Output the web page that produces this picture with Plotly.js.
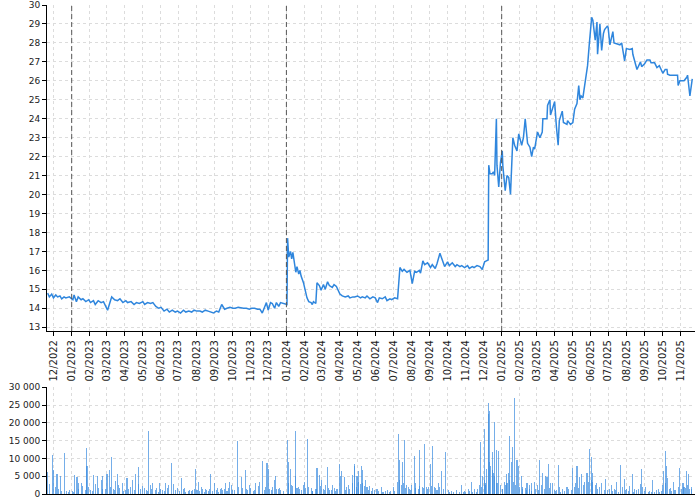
<!DOCTYPE html>
<html>
<head>
<meta charset="utf-8">
<script src="https://cdn.plot.ly/plotly-3.0.1.min.js"></script>
<style>html,body{margin:0;padding:0;background:#fff}#chart{width:700px;height:500px}</style>
</head>
<body>
<div id="chart"></div>
<script>
const priceDates = ['2022-11-21','2022-11-24','2022-11-28','2022-12-01','2022-12-05','2022-12-08','2022-12-12','2022-12-15','2022-12-19','2022-12-22','2022-12-28',
'2023-01-03','2023-01-05','2023-01-09','2023-01-12','2023-01-17','2023-01-20','2023-01-25','2023-01-30','2023-02-02','2023-02-07','2023-02-10','2023-02-15','2023-02-20','2023-02-24','2023-02-28',
'2023-03-03','2023-03-07','2023-03-10','2023-03-15','2023-03-20','2023-03-24','2023-03-29','2023-04-03','2023-04-06','2023-04-12','2023-04-17','2023-04-21','2023-04-26',
'2023-05-02','2023-05-05','2023-05-10','2023-05-15','2023-05-19','2023-05-24','2023-05-29','2023-06-02','2023-06-07','2023-06-12','2023-06-16','2023-06-21','2023-06-26','2023-06-30',
'2023-07-05','2023-07-10','2023-07-14','2023-07-19','2023-07-24','2023-07-28','2023-08-02','2023-08-07','2023-08-11','2023-08-16','2023-08-21','2023-08-25','2023-08-30',
'2023-09-04','2023-09-08','2023-09-13','2023-09-18','2023-09-22','2023-09-27','2023-10-02','2023-10-06','2023-10-11','2023-10-16','2023-10-20','2023-10-25','2023-10-30',
'2023-11-03','2023-11-08','2023-11-13','2023-11-17','2023-11-21','2023-11-24','2023-11-28','2023-12-01','2023-12-05','2023-12-08','2023-12-12','2023-12-15','2023-12-19','2023-12-22','2023-12-28',
'2024-01-02','2024-01-03','2024-01-05','2024-01-08','2024-01-10','2024-01-12','2024-01-15','2024-01-17','2024-01-19','2024-01-22','2024-01-24','2024-01-26','2024-01-30',
'2024-02-01','2024-02-05','2024-02-08','2024-02-12','2024-02-14','2024-02-16','2024-02-20','2024-02-22','2024-02-26','2024-02-29','2024-03-04','2024-03-07','2024-03-11','2024-03-14','2024-03-19','2024-03-22','2024-03-26',
'2024-04-01','2024-04-05','2024-04-10','2024-04-15','2024-04-18','2024-04-23','2024-04-26','2024-05-01','2024-05-06','2024-05-09','2024-05-14','2024-05-17','2024-05-22','2024-05-27','2024-05-31',
'2024-06-04','2024-06-07','2024-06-12','2024-06-17','2024-06-20','2024-06-25','2024-06-28','2024-07-03','2024-07-08','2024-07-12','2024-07-16','2024-07-19','2024-07-24','2024-07-29',
'2024-08-02','2024-08-06','2024-08-09','2024-08-14','2024-08-16','2024-08-20','2024-08-23','2024-08-28','2024-09-02','2024-09-05','2024-09-10','2024-09-13','2024-09-18','2024-09-23','2024-09-26',
'2024-10-01','2024-10-04','2024-10-09','2024-10-14','2024-10-17','2024-10-22','2024-10-25','2024-10-30','2024-11-04','2024-11-07','2024-11-12','2024-11-15','2024-11-20','2024-11-25','2024-11-29',
'2024-12-03','2024-12-06','2024-12-09','2024-12-10','2024-12-12','2024-12-16','2024-12-18','2024-12-20','2024-12-23','2024-12-24','2024-12-27','2024-12-30',
'2025-01-02','2025-01-03','2025-01-07','2025-01-10','2025-01-13','2025-01-16','2025-01-20','2025-01-23','2025-01-27','2025-01-30','2025-02-04','2025-02-07','2025-02-10','2025-02-14','2025-02-18','2025-02-21','2025-02-24','2025-02-26',
'2025-03-03','2025-03-07','2025-03-11','2025-03-12','2025-03-19','2025-03-20','2025-03-24','2025-03-25','2025-03-28','2025-04-01','2025-04-04','2025-04-07','2025-04-09','2025-04-14','2025-04-16','2025-04-22','2025-04-23','2025-04-28',
'2025-05-02','2025-05-05','2025-05-09','2025-05-12','2025-05-14','2025-05-16','2025-05-19','2025-05-23','2025-05-26','2025-05-27','2025-05-30','2025-06-03','2025-06-05','2025-06-09','2025-06-12','2025-06-13','2025-06-17','2025-06-20','2025-06-23','2025-06-25','2025-06-30',
'2025-07-01','2025-07-04','2025-07-07','2025-07-09','2025-07-11','2025-07-16','2025-07-21','2025-07-24','2025-07-25','2025-07-29','2025-08-01','2025-08-07','2025-08-11','2025-08-12','2025-08-19','2025-08-25','2025-08-27',
'2025-09-01','2025-09-05','2025-09-10','2025-09-12','2025-09-18','2025-09-22','2025-09-26','2025-10-02','2025-10-06','2025-10-09','2025-10-10','2025-10-14','2025-10-20','2025-10-27','2025-10-28','2025-10-31',
'2025-11-05','2025-11-07','2025-11-12','2025-11-13','2025-11-17','2025-11-20','2025-11-21'];

const priceValues = [14.8,14.6,14.75,14.55,14.7,14.6,14.65,14.5,14.6,14.55,14.6,
14.45,14.7,14.35,14.6,14.45,14.5,14.35,14.45,14.3,14.4,14.2,14.4,14.3,14.35,14.1,
13.9,14.3,14.6,14.45,14.4,14.5,14.3,14.4,14.3,14.35,14.2,14.3,14.25,
14.35,14.2,14.3,14.25,14.3,14.1,14.0,14.05,13.85,13.95,13.8,13.9,13.8,13.85,
13.75,13.9,13.8,13.85,13.8,13.9,13.85,13.85,13.8,13.9,13.85,13.8,13.75,
13.85,13.8,14.2,13.95,14.0,14.05,14.0,14.0,14.05,14.0,14.0,14.0,13.95,
14.0,14.0,13.95,13.95,13.75,13.95,14.3,13.9,14.3,14.25,14.0,14.3,14.1,14.3,14.25,
14.2,17.7,16.7,17.0,16.6,16.95,16.4,15.9,16.2,15.8,16.0,15.7,15.35,
15.1,14.55,14.35,14.3,14.2,14.35,14.25,15.35,15.2,14.95,15.25,15.0,15.4,15.2,15.1,15.25,15.15,
14.75,14.65,14.6,14.65,14.55,14.6,14.6,14.65,14.55,14.6,14.55,14.65,14.5,14.6,14.55,
14.3,14.55,14.5,14.6,14.4,14.5,14.45,14.55,14.5,16.15,15.95,16.05,15.9,16.0,
15.3,15.95,15.9,16.0,15.85,16.5,16.3,16.4,16.15,16.3,16.1,16.35,16.9,16.4,16.2,
16.45,16.25,16.4,16.2,16.3,16.2,16.25,16.15,16.25,16.1,16.2,16.15,16.25,16.2,16.05,
16.45,16.5,16.55,21.55,21.1,21.1,21.2,21.0,24.0,21.55,20.4,21.7,
22.3,21.5,20.2,21.0,20.9,20.0,23.0,22.6,22.3,23.2,22.6,23.0,24.0,22.7,22.5,22.0,22.5,22.4,
23.3,23.0,23.3,24.0,24.0,24.7,25.0,24.2,24.5,24.9,23.6,22.6,23.9,24.4,23.8,23.7,23.9,23.7,
23.8,24.5,24.8,25.75,25.0,25.2,25.1,25.9,26.7,26.8,27.95,29.35,29.2,28.15,29.1,27.4,29.0,27.6,28.5,28.7,28.9,
28.8,27.9,28.3,28.6,28.0,27.95,27.9,28.0,27.75,27.05,27.7,27.65,27.7,27.4,26.6,27.0,26.75,
26.9,27.1,27.1,26.95,26.95,26.7,26.8,26.4,26.6,26.6,26.35,26.3,26.3,26.3,25.75,26.0,
26.0,26.0,26.2,26.3,25.2,26.0,26.1];

const volumeDates = ['2022-11-21','2022-11-24','2022-11-29','2022-12-01','2022-12-05','2022-12-07','2022-12-13','2022-12-20','2022-12-23','2022-12-27',
'2023-01-02','2023-01-06','2023-01-10','2023-01-13','2023-01-18','2023-01-20','2023-01-26','2023-01-27','2023-01-30','2023-02-02','2023-02-07','2023-02-10','2023-02-14','2023-02-20','2023-02-23','2023-02-27',
'2023-03-02','2023-03-06','2023-03-10','2023-03-13','2023-03-17','2023-03-20','2023-03-24','2023-03-28','2023-04-03','2023-04-05','2023-04-11','2023-04-14','2023-04-20','2023-04-25','2023-04-28',
'2023-05-02','2023-05-08','2023-05-12','2023-05-15','2023-05-19','2023-05-25','2023-05-31','2023-06-05','2023-06-09','2023-06-15','2023-06-20','2023-06-23','2023-06-30',
'2023-07-07','2023-07-12','2023-07-19','2023-07-26','2023-07-31','2023-08-04','2023-08-09','2023-08-16','2023-08-21','2023-08-25','2023-09-01','2023-09-06','2023-09-13','2023-09-20','2023-09-22','2023-09-27','2023-09-29',
'2023-10-05','2023-10-10','2023-10-16','2023-10-23','2023-10-27','2023-10-31','2023-11-06','2023-11-10','2023-11-17','2023-11-21','2023-11-24','2023-11-29','2023-12-01','2023-12-06','2023-12-12','2023-12-13','2023-12-18','2023-12-22','2023-12-27',
'2024-01-03','2024-01-04','2024-01-08','2024-01-10','2024-01-16','2024-01-17','2024-01-22','2024-01-26','2024-02-01','2024-02-06','2024-02-12','2024-02-15','2024-02-19','2024-02-22','2024-02-26',
'2024-03-01','2024-03-06','2024-03-11','2024-03-14','2024-03-20','2024-03-25','2024-04-01','2024-04-02','2024-04-04','2024-04-08','2024-04-12','2024-04-18','2024-04-22','2024-04-25','2024-04-26','2024-04-30',
'2024-05-02','2024-05-07','2024-05-10','2024-05-14','2024-05-17','2024-05-22','2024-05-27','2024-06-03','2024-06-10','2024-06-14','2024-06-21','2024-06-26','2024-07-01','2024-07-08','2024-07-10','2024-07-12','2024-07-16','2024-07-19','2024-07-23','2024-07-26','2024-07-30',
'2024-08-05','2024-08-08','2024-08-12','2024-08-15','2024-08-19','2024-08-23','2024-08-26','2024-08-30','2024-09-02','2024-09-06','2024-09-09','2024-09-16','2024-09-20','2024-09-27',
'2024-10-02','2024-10-08','2024-10-16','2024-10-24','2024-10-30','2024-11-05','2024-11-11','2024-11-15','2024-11-21','2024-11-25','2024-11-26','2024-11-29',
'2024-12-02','2024-12-06','2024-12-09','2024-12-10','2024-12-12','2024-12-13','2024-12-16','2024-12-17','2024-12-20','2024-12-23','2024-12-27',
'2025-01-02','2025-01-06','2025-01-09','2025-01-13','2025-01-15','2025-01-17','2025-01-20','2025-01-22','2025-01-27','2025-01-29','2025-02-03','2025-02-06','2025-02-13','2025-02-18','2025-02-21','2025-02-25',
'2025-03-03','2025-03-06','2025-03-12','2025-03-17','2025-03-19','2025-03-21','2025-03-25','2025-03-28','2025-04-07','2025-04-09','2025-04-15','2025-04-22','2025-04-25',
'2025-05-02','2025-05-06','2025-05-09','2025-05-14','2025-05-16','2025-05-22','2025-05-26','2025-05-28','2025-05-30','2025-06-03','2025-06-05','2025-06-09','2025-06-11','2025-06-17','2025-06-20','2025-06-27',
'2025-07-03','2025-07-07','2025-07-11','2025-07-16','2025-07-22','2025-07-25','2025-07-29','2025-08-01','2025-08-07','2025-08-11','2025-08-15','2025-08-18','2025-08-25','2025-08-27','2025-08-29',
'2025-09-03','2025-09-10','2025-09-15','2025-09-18','2025-09-24','2025-09-26','2025-10-02','2025-10-03','2025-10-06','2025-10-08','2025-10-10','2025-10-15','2025-10-20','2025-10-24','2025-10-30',
'2025-11-04','2025-11-06','2025-11-11','2025-11-14','2025-11-17','2025-11-20'];

const volumeValues = [6300,2800,11000,6700,2000,5600,5200,11500,800,600,
900,5300,4800,3200,3200,2300,13000,7800,2000,1200,5300,2800,5000,3800,5000,1500,
5600,6800,10300,1500,3600,5600,1700,3000,1200,4500,2000,4000,5500,7700,1500,
2200,1200,17700,2500,3000,1800,3200,1000,3000,2500,8800,2800,1600,
4500,1700,800,1000,7000,3300,2000,1500,900,5500,3000,1800,1800,3200,800,3500,2500,
1000,15000,4900,6700,1200,2500,900,3000,3500,9400,1200,8600,7000,1000,4000,5000,1500,1000,800,
15200,9000,7000,2500,17800,5000,2000,1200,3500,15600,1700,800,1500,7200,5300,
4000,1000,7700,1200,2500,900,8400,5000,6500,4800,2000,1500,5300,8300,8000,5000,
6600,7900,6700,4000,2000,2200,1800,1500,2000,700,1000,800,2000,3500,17000,9500,9000,15200,2500,2000,1000,
10800,3000,1500,12400,2000,14000,2000,2000,8500,13500,2000,3000,6500,11900,
1000,800,1000,2500,800,1500,3500,1500,1500,2500,14700,5000,
18300,7000,22500,25500,23300,8000,11900,6700,20200,12400,12000,
1500,3500,5500,6000,16300,9000,13300,26900,9500,8000,5200,2000,3000,2500,3000,3500,
2500,9700,5800,5000,4800,8500,3000,3000,8100,2000,1500,2000,1500,
7400,3000,8000,4800,5500,3500,5800,3500,12600,10500,6000,2500,3000,2000,3000,4200,
1500,2500,1500,3500,8100,2000,4200,1500,2300,5600,1500,1000,2700,7100,2000,
2000,800,4000,500,1500,600,2500,6500,12100,8000,4500,1800,3300,1000,7300,
3000,3000,6500,5500,1500,2000];

// smaller day-to-day volumes between the spikes
const lowVolumeDates = ['2022-12-09','2022-12-15','2022-12-29','2023-01-04','2023-01-12','2023-01-24','2023-02-06','2023-02-16','2023-02-22',
'2023-03-08','2023-03-15','2023-03-22','2023-03-30','2023-04-07','2023-04-18','2023-04-24','2023-05-04','2023-05-10','2023-05-17','2023-05-23','2023-05-29',
'2023-06-01','2023-06-07','2023-06-13','2023-06-27','2023-07-04','2023-07-10','2023-07-14','2023-07-21','2023-07-24','2023-07-28',
'2023-08-02','2023-08-07','2023-08-11','2023-08-14','2023-08-18','2023-08-23','2023-08-29','2023-09-04','2023-09-08','2023-09-11','2023-09-15','2023-09-18','2023-09-25',
'2023-10-02','2023-10-12','2023-10-19','2023-10-25','2023-11-01','2023-11-08','2023-11-14','2023-11-27','2023-12-04','2023-12-08','2023-12-15','2023-12-20',
'2024-01-05','2024-01-12','2024-01-19','2024-01-24','2024-01-30','2024-02-02','2024-02-08','2024-02-14','2024-02-21','2024-02-28',
'2024-03-04','2024-03-08','2024-03-13','2024-03-18','2024-03-22','2024-03-27','2024-04-10','2024-04-15','2024-04-23','2024-04-29',
'2024-05-03','2024-05-06','2024-05-09','2024-05-13','2024-05-20','2024-05-24','2024-05-30','2024-06-05','2024-06-12','2024-06-18','2024-06-24',
'2024-07-03','2024-07-11','2024-07-15','2024-07-18','2024-07-22','2024-07-29','2024-08-01','2024-08-07','2024-08-14','2024-08-21','2024-08-28',
'2024-09-04','2024-09-11','2024-09-13','2024-09-18','2024-09-24','2024-10-04','2024-10-11','2024-10-21','2024-10-28','2024-11-01','2024-11-08','2024-11-13','2024-11-19','2024-11-28',
'2024-12-03','2024-12-04','2024-12-05','2024-12-11','2024-12-18','2024-12-19','2024-12-24','2024-12-30',
'2025-01-03','2025-01-08','2025-01-10','2025-01-14','2025-01-21','2025-01-24','2025-01-31','2025-02-05','2025-02-10','2025-02-12','2025-02-17','2025-02-20','2025-02-27',
'2025-03-05','2025-03-10','2025-03-14','2025-03-24','2025-03-31','2025-04-02','2025-04-04','2025-04-11','2025-04-17','2025-04-29','2025-05-05','2025-05-12','2025-05-20',
'2025-06-02','2025-06-04','2025-06-13','2025-06-24','2025-06-30','2025-07-09','2025-07-14','2025-07-18','2025-07-31','2025-08-05','2025-08-13','2025-08-21',
'2025-09-01','2025-09-08','2025-09-12','2025-09-22','2025-09-30','2025-10-07','2025-10-13','2025-10-17','2025-10-22','2025-10-28',
'2025-11-03','2025-11-07','2025-11-10','2025-11-13','2025-11-19'];

const lowVolumeValues = [1500,900,1200,700,1500,1000,900,1800,1300,
2000,1200,2500,900,1500,1000,2800,1800,900,1500,1100,700,
1300,900,1600,1100,900,1400,600,1200,900,1500,
1100,800,1300,700,1000,1400,900,1200,700,1500,1000,1300,1600,
1200,2000,1800,1400,1600,1200,2200,1900,1500,2000,1300,1700,
3000,2200,1800,1500,2500,1800,2000,900,1400,2200,
1500,2500,1800,1100,1700,1300,1200,2600,3000,2000,
3500,2800,3000,2200,1200,900,1100,800,600,900,500,
900,4000,2500,3000,1800,1500,2500,1800,2200,1700,1300,
2200,1800,1200,2000,1500,700,600,500,700,600,900,500,700,2000,
4000,3000,2500,9000,6000,5000,3000,2500,
1500,2500,3000,4000,3500,2500,2000,1500,1800,1000,1300,800,1500,
1200,2500,1500,1800,1000,800,1200,600,900,1000,2000,1800,2500,
4000,3500,1500,1200,1000,800,1100,700,1200,900,700,1300,
800,600,700,1000,900,3000,1500,800,1200,2000,
1500,2000,1800,2500,1500];

const yearMarkers = ['2023-01-01','2024-01-01','2025-01-01'];
const xRange = ['2022-11-20','2025-11-25 16:00'];

const gridCol = '#dcdcdc';
const price = {
  type:'scatter', mode:'lines', x:priceDates, y:priceValues, xaxis:'x', yaxis:'y',
  line:{color:'#2f86dd', width:1.5}, hoverinfo:'skip'
};
const volume = {
  type:'bar', x:volumeDates.concat(lowVolumeDates), y:volumeValues.concat(lowVolumeValues), xaxis:'x2', yaxis:'y2',
  marker:{color:'#3a8ce0', opacity:0.7, line:{width:0}}, width:1.8*86400000, hoverinfo:'skip'
};

const shapes = yearMarkers.map(d => ({
  type:'line', xref:'x', yref:'paper', x0:d, x1:d, y0:0.3333, y1:1,
  line:{color:'#555', width:1, dash:'5px,3px'}
}));

const axisCommon = {
  showline:true, linecolor:'#000', linewidth:1, zeroline:false,
  showgrid:true, gridcolor:gridCol, griddash:'3px,3px', gridwidth:1
};

const layout = {
  width:700, height:500,
  margin:{l:47, r:5, t:5, b:6},
  paper_bgcolor:'#fff', plot_bgcolor:'#fff',
  showlegend:false, separators:'. ', bargap:0, barmode:'overlay',
  font:{family:'DejaVu Sans, sans-serif', size:10, color:'#222'},
  xaxis: Object.assign({}, axisCommon, {
    type:'date', range:xRange, domain:[0,1], anchor:'y',
    dtick:'M1', tick0:'2022-12-01', tickformat:'%m/%Y', tickangle:-90,
    ticks:'outside', ticklen:4, tickcolor:'#000', tickfont:{size:10, color:'#222'}
  }),
  yaxis: Object.assign({}, axisCommon, {
    domain:[0.3333,1], range:[12.8,30], dtick:1, tick0:13, anchor:'x',
    ticks:'outside', ticklen:4, tickcolor:'#000', tickfont:{size:9, color:'#222'}
  }),
  xaxis2: Object.assign({}, axisCommon, {
    type:'date', matches:'x', range:xRange, domain:[0,1], anchor:'y2',
    dtick:'M1', tick0:'2022-12-01', showticklabels:false, ticks:''
  }),
  yaxis2: Object.assign({}, axisCommon, {
    domain:[0,0.2182], range:[0,30000], dtick:5000, anchor:'x2',
    separatethousands:true, tickformat:',d',
    ticks:'outside', ticklen:4, tickcolor:'#000', tickfont:{size:9, color:'#222'}
  }),
  shapes: shapes
};

Plotly.newPlot('chart', [price, volume], layout, {staticPlot:true, displayModeBar:false});
</script>
</body>
</html>
